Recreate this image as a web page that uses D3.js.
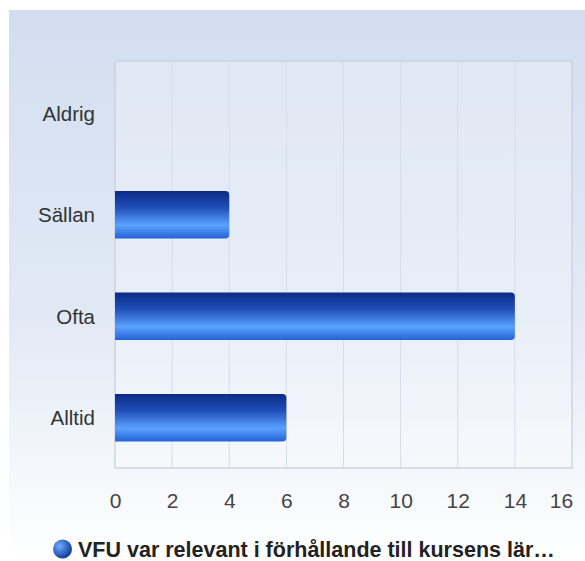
<!DOCTYPE html>
<html><head><meta charset="utf-8">
<script src="https://cdn.jsdelivr.net/npm/d3@7"></script>
<style>body{margin:0;background:#fff}svg{display:block}</style>
</head><body>
<script>
const categories = ["Aldrig", "Sällan", "Ofta", "Alltid"];
const values = [0, 4, 14, 6];
const ticks = [0, 2, 4, 6, 8, 10, 12, 14, 16];
const seriesName = "VFU var relevant i förhållande till kursens lär…";

(function(){
const W = 585, H = 561;
const svg = d3.select("body").append("svg").attr("width", W).attr("height", H);
const defs = svg.append("defs");
const bg = defs.append("linearGradient").attr("id","bg").attr("x1",0).attr("y1",0).attr("x2",0).attr("y2",1);
bg.append("stop").attr("offset","0%").attr("stop-color","#d2def0");
bg.append("stop").attr("offset","55%").attr("stop-color","#e1e9f5");
bg.append("stop").attr("offset","100%").attr("stop-color","#ffffff");
const bar = defs.append("linearGradient").attr("id","bar").attr("x1",0).attr("y1",0).attr("x2",0).attr("y2",1);
[["0%","#0b2a86"],["35%","#1f4fb8"],["72%","#5aa2ff"],["100%","#2462d6"]].forEach(s=>bar.append("stop").attr("offset",s[0]).attr("stop-color",s[1]));
const leg = defs.append("radialGradient").attr("id","leg").attr("cx","35%").attr("cy","35%").attr("r","70%");
leg.append("stop").attr("offset","0%").attr("stop-color","#6fb0ff");
leg.append("stop").attr("offset","100%").attr("stop-color","#0d3596");

svg.append("rect").attr("x",9).attr("y",10).attr("width",W-9).attr("height",H-10).attr("fill","url(#bg)");

const pl = 115, pr = 572, pt = 61, pb = 468;
const x = d3.scaleLinear().domain([0,16]).range([pl,pr]);
const y = d3.scaleBand().domain(categories).range([pt,pb]).paddingInner(0.53).paddingOuter(0.27);

svg.append("rect").attr("x",pl).attr("y",pt).attr("width",pr-pl).attr("height",pb-pt)
  .attr("fill","rgba(255,255,255,0.25)").attr("stroke","#c9ced6").attr("stroke-width",1.2);

svg.append("g").selectAll("line").data(ticks.slice(1,-1)).join("line")
  .attr("x1",d=>x(d)).attr("x2",d=>x(d)).attr("y1",pt).attr("y2",pb)
  .attr("stroke","#d6dde8").attr("stroke-width",1);

function barPath(x0, y0, w, h, r) {
  if (w <= 0) return "";
  r = Math.min(r, w);
  return `M${x0},${y0}H${x0+w-r}Q${x0+w},${y0} ${x0+w},${y0+r}V${y0+h-r}Q${x0+w},${y0+h} ${x0+w-r},${y0+h}H${x0}Z`;
}
svg.append("g").selectAll("path").data(values).join("path")
  .attr("d",(d,i)=>barPath(x(0), y(categories[i]) + 1, x(d)-x(0), y.bandwidth(), 4))
  .attr("fill","url(#bar)");

const yAxis = svg.append("g").attr("transform",`translate(${pl},2)`).call(d3.axisLeft(y).tickSize(0).tickPadding(20));
yAxis.select(".domain").remove();
yAxis.selectAll("text").attr("font-family","Liberation Sans, Arial, sans-serif").attr("font-size",20.5).attr("fill","#333");

const xAxis = svg.append("g").attr("transform",`translate(0,${pb})`).call(d3.axisBottom(x).tickValues(ticks).tickSize(0).tickPadding(25));
xAxis.select(".domain").remove();
xAxis.selectAll("text").attr("font-family","Liberation Sans, Arial, sans-serif").attr("font-size",21).attr("fill","#444")
  .attr("dx", d => d === 16 ? -11 : 0);

const lg = svg.append("g");
lg.append("circle").attr("cx",62.5).attr("cy",549).attr("r",9.5).attr("fill","url(#leg)");
lg.append("text").attr("x",78).attr("y",557).text(seriesName)
  .attr("font-family","Liberation Sans, Arial, sans-serif").attr("font-size",21.5).attr("font-weight","bold").attr("fill","#222");
})();
</script>
</body></html>
